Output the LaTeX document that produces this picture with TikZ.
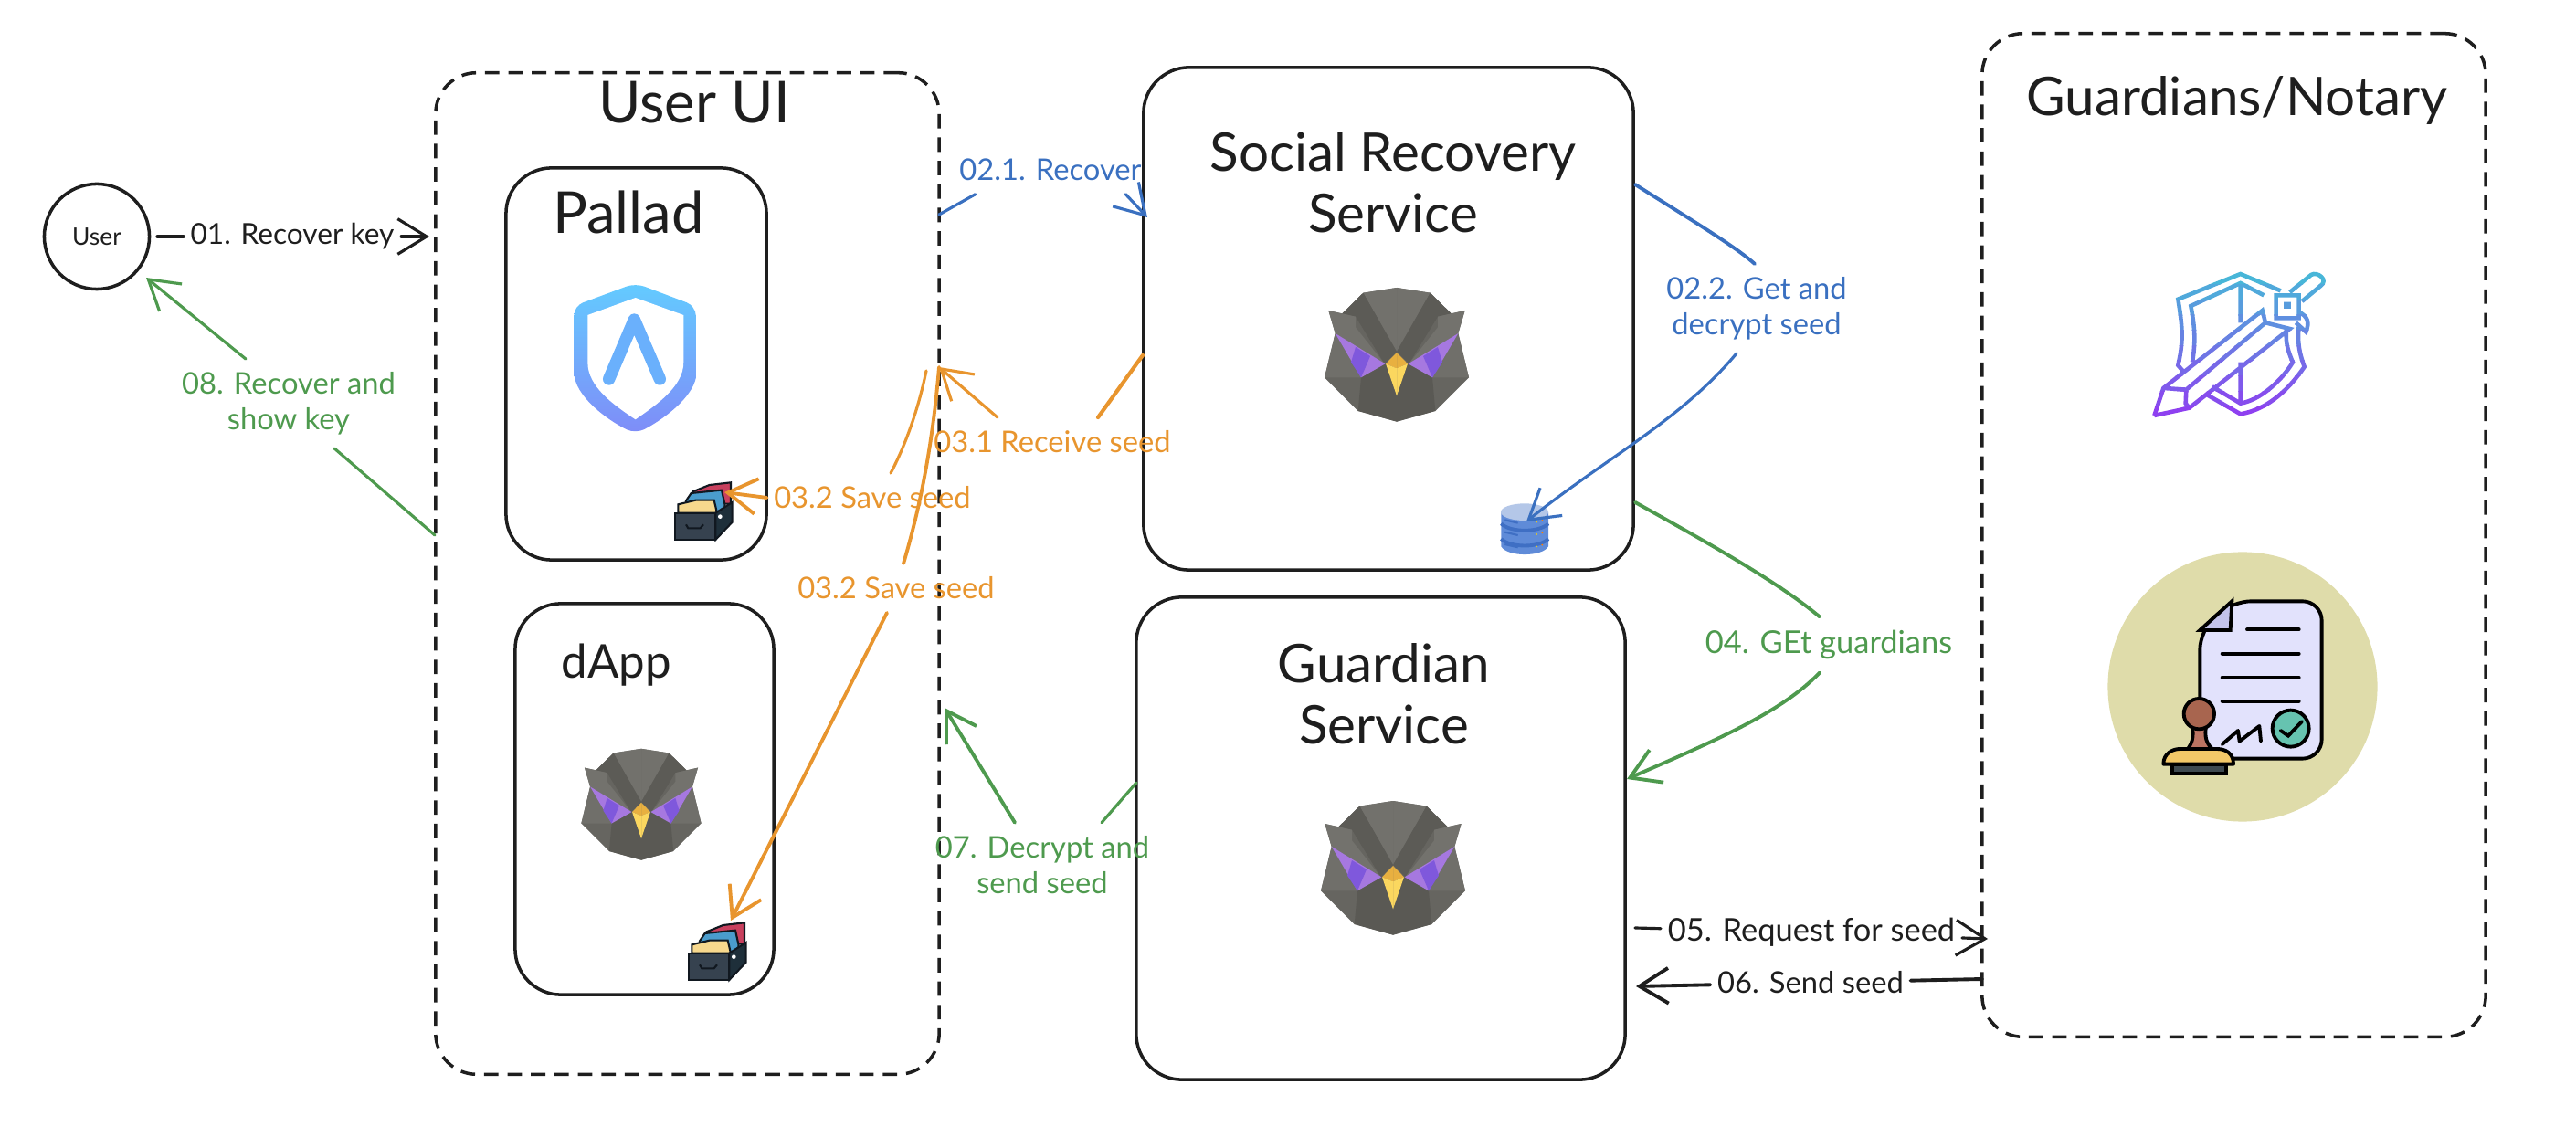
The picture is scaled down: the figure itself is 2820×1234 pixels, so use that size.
\documentclass[tikz,border=0pt]{standalone}
\usepackage{fontspec}
\setmainfont{Lato}
\usetikzlibrary{arrows.meta}

\definecolor{inkc}{HTML}{1E1E1E}
\definecolor{bluec}{HTML}{3A70C0}
\definecolor{greenc}{HTML}{4E9A4E}
\definecolor{orangec}{HTML}{E8952E}
\definecolor{swordA}{HTML}{48B6D8}
\definecolor{swordB}{HTML}{8F3FF0}
\definecolor{owlTop}{HTML}{72716C}
\definecolor{owlDark}{HTML}{5C5B56}
\definecolor{owlBase}{HTML}{666560}
\definecolor{owlEar}{HTML}{73726D}
\definecolor{owlCheek}{HTML}{706F6A}
\definecolor{owlChin}{HTML}{5A5954}
\definecolor{owlEye}{HTML}{A678E0}
\definecolor{owlIris}{HTML}{7F58DC}
\definecolor{owlBeak}{HTML}{E8B040}
\definecolor{owlBill}{HTML}{FBD75F}
\definecolor{palladTop}{HTML}{63CBFF}
\definecolor{palladLow}{HTML}{7F8CF8}
\definecolor{palladMid}{HTML}{6AB0FC}
\definecolor{drawerLine}{HTML}{111820}
\definecolor{drawerRed}{HTML}{C8405E}
\definecolor{drawerBlue}{HTML}{4A9CCD}
\definecolor{drawerTab}{HTML}{F7D88D}
\definecolor{drawerFront}{HTML}{36424F}
\definecolor{drawerSide}{HTML}{1E2F3A}
\definecolor{dbBody}{HTML}{5F8BD8}
\definecolor{dbBand}{HTML}{3F6FC4}
\definecolor{dbTop}{HTML}{B4C7E8}
\definecolor{sealc}{HTML}{DFDCAA}
\definecolor{docPage}{HTML}{E2E2FC}
\definecolor{docFold}{HTML}{C3C3EA}
\definecolor{docCheck}{HTML}{66C3B0}
\definecolor{stampNeck}{HTML}{BB7462}
\definecolor{stampHead}{HTML}{A8654F}
\definecolor{stampBase}{HTML}{F3C868}
\definecolor{stampFoot}{HTML}{3F4A50}

\newcommand{\swordStrokes}{
    (470,100) -- (338,45) -- (133,128) .. controls (150,230) and (150,270) .. (133,345) -- (150,365)
    (415,115) -- (338,75) -- (175,150) .. controls (190,230) and (190,270) .. (180,335)
    (338,75) -- (338,205) (338,335) -- (338,470)
    (225,440) -- (338,505) .. controls (430,490) and (500,420) .. (548,350) .. controls (530,300) and (525,270) .. (530,215)
    (245,415) -- (338,470) .. controls (400,460) and (470,400) .. (510,335) .. controls (490,290) and (485,260) .. (490,225)
    (530,170) .. controls (560,185) and (565,205) .. (553,235) -- (520,205)
    (55,510) -- (85,420) -- (410,165) -- (420,205) -- (160,425) -- (85,420)
    (55,510) -- (170,485) -- (500,225) -- (420,205)
    (160,425) -- (158,470) -- (170,485)
    (500,105) -- (570,48) .. controls (590,35) and (630,65) .. (600,85) -- (540,135)
    (455,115) rectangle (530,190)
    (487,144) rectangle (497,152)
}

\tikzset{
    box/.style={draw=inkc, line width=1pt, rounded corners=.5cm, inner sep=0pt},
    dashbox/.style={box, rounded corners=.45cm, dash pattern=on 4.5pt off 2.8pt},
    title/.style={text=inkc, align=center, inner sep=0pt, font=\fontsize{16.6}{19}\selectfont},
    lab/.style={align=center, inner xsep=2pt, inner ysep=4pt, font=\fontsize{9.3}{11}\selectfont},
    conn/.style={line width=.9pt, line cap=round, -{Straight Barb[length=9pt,width=11pt]}},
    stub/.style={line width=.9pt, line cap=round},
    pics/owl/.style={code={
        \foreach \s in {-1,1} {
            \begin{scope}[xscale=\s]
                \fill[owlBase] (0,-210) -- (-110,-193) -- (-179,-125) -- (-224,-135) -- (-202,-60) -- (-237,85) -- (-127,195) -- (0,230) -- cycle;
                \fill[owlTop] (0,-210) -- (-110,-193) -- (0,0) -- cycle;
                \fill[owlDark] (-110,-193) -- (-179,-125) -- (-135,-115) -- (-40,40) -- (0,0) -- cycle;
                \fill[owlEar] (-224,-135) -- (-202,-60) -- (-40,40) -- (-135,-80) -- (-135,-115) -- cycle;
                \fill[owlCheek] (-202,-60) -- (-237,85) -- (-117,85) -- cycle;
                \fill[owlChin] (-117,85) -- (-127,195) -- (0,230) -- (0,145) -- (-35,40) -- cycle;
                \fill[owlEye] (-202,-60) -- (-117,85) -- (-38,40) -- cycle;
                \fill[owlIris] (-135,-15) -- (-87,15) -- (-117,85) -- (-150,35) -- cycle;
                \fill[owlBeak] (0,3) -- (-36,40) -- (0,55) -- cycle;
                \fill[owlBill] (-36,40) -- (0,145) -- (0,55) -- cycle;
            \end{scope}
        }
    }},
    pics/palladlogo/.style={code={
        \shade[top color=palladTop, bottom color=palladLow, rounded corners=3pt]
            (242,30) -- (440,105) -- (443,290) .. controls (443,400) and (330,480) .. (242,525)
            .. controls (150,480) and (40,400) .. (40,290) -- (40,105) -- cycle;
        \fill[white] (242,78) -- (400,135) -- (400,290) .. controls (400,370) and (310,430) .. (242,478)
            .. controls (170,430) and (85,370) .. (85,290) -- (85,135) -- cycle;
        \draw[palladMid, line width=3.8pt, line cap=round, line join=round]
            (155,345) -- (238,150) -- (322,345);
    }},
    pics/drawer/.style={code={
        \draw[drawerLine, line width=.6pt, fill=drawerRed] (100,70) -- (155,48) -- (225,40) -- (225,110) -- (100,110) -- cycle;
        \draw[drawerLine, line width=.6pt, fill=drawerBlue] (78,100) -- (95,75) -- (195,65) -- (205,110) -- (205,140) -- (78,140) -- cycle;
        \draw[drawerLine, line width=.6pt, fill=drawerTab] (52,140) -- (52,112) -- (110,98) -- (170,98) -- (180,140) -- cycle;
        \draw[drawerLine, line width=.6pt, fill=drawerFront] (42,140) -- (175,140) -- (175,228) -- (42,228) -- cycle;
        \draw[drawerLine, line width=.6pt, fill=drawerSide] (175,140) -- (230,105) -- (230,170) -- (175,228) -- cycle;
        \draw[drawerLine, line width=.6pt] (78,178) -- (85,190) -- (125,190) -- (135,178);
        \fill[white] (190,152) circle [radius=7];
    }},
    pics/database/.style={code={
        \fill[dbBody] (40,62) -- (40,175) .. controls (60,210) and (175,210) .. (195,175) -- (195,62) -- cycle;
        \foreach \h in {100,150} {
            \draw[dbBand, line width=1.1pt] (40,\h) .. controls (70,\h+30) and (165,\h+30) .. (195,\h);
        }
        \foreach \h in {95,135,175} {
            \draw[dbBand, line width=.6pt] (52,\h-7) -- (95,\h+3);
            \fill[orange] (175,\h-5) circle [radius=3];
            \fill[yellow!70!orange] (156,\h) circle [radius=3];
        }
        \fill[dbTop] (117,62) ellipse [x radius=78, y radius=28];
    }},
    pics/swordshield/.style={code={
        % vertical colour fade, one band at a time
        \foreach \i in {0,...,9} {
            \pgfmathsetmacro{\mixp}{\i*11}
            \begin{scope}
                \clip (0,30+\i*50) rectangle (660,81+\i*50);
                \draw[swordB!\mixp!swordA, line width=1.3pt, line join=miter] \swordStrokes;
            \end{scope}
        }
    }},
    pics/notarydoc/.style={code={
        \draw[black, line width=1.1pt, fill=docPage, rounded corners=6pt]
            (280,55) -- (575,55) -- (575,572) -- (175,572) -- (175,150) -- cycle;
        \draw[black, line width=1.1pt, fill=docFold] (280,55) -- (275,150) -- (175,150) -- cycle;
        \draw[black, line width=1.1pt, line cap=round] (330,148) -- (500,148) (248,227) -- (500,227)
            (248,305) -- (500,305) (248,383) -- (500,383);
        \draw[black, line width=1.1pt, line cap=round, line join=round]
            (248,525) -- (300,480) -- (305,515) -- (370,465) -- (375,515);
        \draw[black, line width=1.1pt, fill=docCheck] (473,473) circle [radius=60];
        \draw[black, line width=1.1pt, line cap=round] (440,480) -- (465,497) -- (510,450);
        \draw[black, line width=1.1pt, fill=stampNeck] (150,465) .. controls (155,500) and (150,520) .. (135,540)
            -- (215,540) .. controls (195,520) and (190,500) .. (195,465) -- cycle;
        \draw[black, line width=1.1pt, fill=stampHead] (172,425) circle [radius=50];
        \draw[black, line width=1.1pt, fill=stampFoot] (85,590) rectangle (260,620);
        \draw[black, line width=1.1pt, fill=stampBase, line join=round] (55,590) .. controls (55,555) and (85,540) .. (110,540)
            -- (230,540) .. controls (260,540) and (285,555) .. (285,590) -- cycle;
    }}
}

\begin{document}
\begin{tikzpicture}[x=0.01cm, y=-0.01cm]

    \useasboundingbox (0,0) rectangle (2820,1234);

    % Define boxes
    \node[draw=inkc, line width=1pt, circle, minimum size=1.15cm, inner sep=0pt,
          font=\fontsize{7.5}{9}\selectfont, text=inkc] (user) at (106,259) {User};
    \node[dashbox, minimum width=5.51cm, minimum height=10.96cm] (userUI) at (752.5,628) {};
    \node[box, minimum width=2.85cm, minimum height=4.29cm] (pallad) at (696.5,398.5) {};
    \node[box, minimum width=2.83cm, minimum height=4.28cm] (dapp) at (705.5,875) {};
    \node[box, minimum width=5.36cm, minimum height=5.5cm] (social) at (1520,349) {};
    \node[box, minimum width=5.35cm, minimum height=5.28cm] (guardian) at (1511.5,918) {};
    \node[dashbox, minimum width=5.51cm, minimum height=10.98cm] (guardians) at (2445.5,586) {};

    % Titles
    \node[title, font=\fontsize{18}{19}\selectfont] (userUItitle) at (760,112) {User UI};
    \node[title, font=\fontsize{18}{19}\selectfont] (pallattitle) at (688,232) {Pallad};
    \node[title, font=\fontsize{14.5}{19}\selectfont] (dapptitle) at (675,728) {dApp};
    \node[title] (socialtitle) at (1525,200) {Social Recovery\\Service};
    \node[title] (guardiantitle) at (1515,760) {Guardian\\Service};
    \node[title] (guardianstitle) at (2449,110) {Guardians/Notary};

    % Icons
    \pic[scale=.3333] at (615,300) {palladlogo};
    \pic[scale=.3333] at (725,515) {drawer};
    \pic[scale=.3333] at (740,997) {drawer};
    \pic[scale=.277] at (702,878) {owl};
    \pic[scale=.3333] at (1529,385) {owl};
    \pic[scale=.3333] at (1525,947) {owl};
    \pic[scale=.3333] at (1630,540) {database};
    \pic[scale=.3333] at (2340,285) {swordshield};
    \node[circle, fill=sealc, minimum width=2.95cm, inner sep=0pt] (seal) at (2455,752) {};
    \pic[scale=.3333] at (2350,640) {notarydoc};

    % Connector labels
    \node[lab, text=inkc, font=\fontsize{9}{11}\selectfont] (lab01) at (320,259) {01. Recover key};
    \node[lab, text=bluec] (lab021) at (1150,186) {02.1. Recover};
    \node[lab, text=bluec] (lab022) at (1923,338) {02.2. Get and\\decrypt seed};
    \node[lab, text=orangec] (lab031) at (1152,484) {03.1 Receive seed};
    \node[lab, text=orangec] (lab032a) at (955,545) {03.2 Save seed};
    \node[lab, text=orangec] (lab032b) at (981,644) {03.2 Save seed};
    \node[lab, text=greenc, font=\fontsize{9.8}{11}\selectfont] (lab04) at (2002,706) {04. GEt guardians};
    \node[lab, text=inkc, font=\fontsize{9.8}{11}\selectfont] (lab05) at (1983,1021) {05. Request for seed};
    \node[lab, text=inkc] (lab06) at (1982,1076) {06. Send seed};
    \node[lab, text=greenc] (lab07) at (1141,947) {07. Decrypt and\\send seed};
    \node[lab, text=greenc] (lab08) at (316,442) {08. Recover and\\show key};

    % Free ends of the connectors
    \coordinate (uiKeyIn) at (470,259);
    \coordinate (uiKeyOut) at (476,586);
    \coordinate (userIn) at (160,304);
    \coordinate (uiOut) at (1028,235);
    \coordinate (socIn) at (1256,238);
    \coordinate (socBlueOut) at (1790,202);
    \coordinate (dbIn) at (1671,571);
    \coordinate (socOrangeOut) at (1251,389);
    \coordinate (uiIn) at (1028,402);
    \coordinate (uiSave) at (1014,406);
    \coordinate (drawerIn) at (793,539);
    \coordinate (dappDrawerIn) at (800,1008);
    \coordinate (socGreenOut) at (1790,550);
    \coordinate (guardIn) at (1781,853);
    \coordinate (guardOut) at (1790,1016);
    \coordinate (notaryIn) at (2176,1028);
    \coordinate (notaryOut) at (2170,1072);
    \coordinate (guardBack) at (1791,1080);
    \coordinate (guardGreenOut) at (1244,857);
    \coordinate (uiBack) at (1034,775);

    % Connect the nodes
    \draw[stub, inkc, line width=1.1pt, shorten <=2pt] (user) -- (lab01);
    \draw[conn, inkc] (lab01) -- (uiKeyIn);

    \draw[stub, bluec] (uiOut) -- ([xshift=.25cm]lab021.south west);
    \draw[conn, bluec] ([xshift=-.25cm]lab021.south east) -- (socIn);

    \draw[stub, bluec, line width=1.1pt] (socBlueOut) .. controls (1850,240) and (1900,270) .. ([xshift=-.02cm]lab022.north);
    \draw[conn, bluec] ([xshift=-.22cm]lab022.south) .. controls (1840,460) and (1760,500) .. (dbIn);

    \draw[stub, orangec, line width=1.2pt] (socOrangeOut) -- ([xshift=.5cm]lab031.north);
    \draw[conn, orangec] ([xshift=-.6cm]lab031.north) -- (uiIn);

    \draw[stub, orangec] (uiSave) .. controls (1005,450) and (990,490) .. ([xshift=.2cm]lab032a.north);
    \draw[conn, orangec, line width=1.1pt] (lab032a.west) -- (drawerIn);

    \draw[stub, orangec, line width=1.1pt] (uiIn) .. controls (1020,500) and (1003,570) .. ([xshift=.08cm]lab032b.north);
    \draw[conn, orangec, line width=1.1pt] ([xshift=-.1cm]lab032b.south) -- (dappDrawerIn);

    \draw[stub, greenc, line width=1.1pt] (socGreenOut) .. controls (1880,600) and (1950,640) .. ([xshift=-.1cm]lab04.north);
    \draw[conn, greenc, line width=1.1pt] ([xshift=-.1cm]lab04.south) .. controls (1950,780) and (1880,810) .. (guardIn);

    \draw[stub, inkc] (guardOut) -- (lab05);
    \draw[conn, inkc] (lab05) -- (notaryIn);
    \draw[stub, inkc, line width=1.1pt] (notaryOut) -- (lab06);
    \draw[conn, inkc, line width=1.1pt] (lab06) -- (guardBack);

    \draw[stub, greenc] (guardGreenOut) -- ([xshift=.65cm]lab07.north);
    \draw[conn, greenc, line width=1.1pt] ([xshift=-.3cm]lab07.north) -- (uiBack);

    \draw[stub, greenc] (uiKeyOut) -- ([xshift=.5cm]lab08.south);
    \draw[conn, greenc] ([xshift=-.47cm]lab08.north) -- (userIn);

\end{tikzpicture}
\end{document}
